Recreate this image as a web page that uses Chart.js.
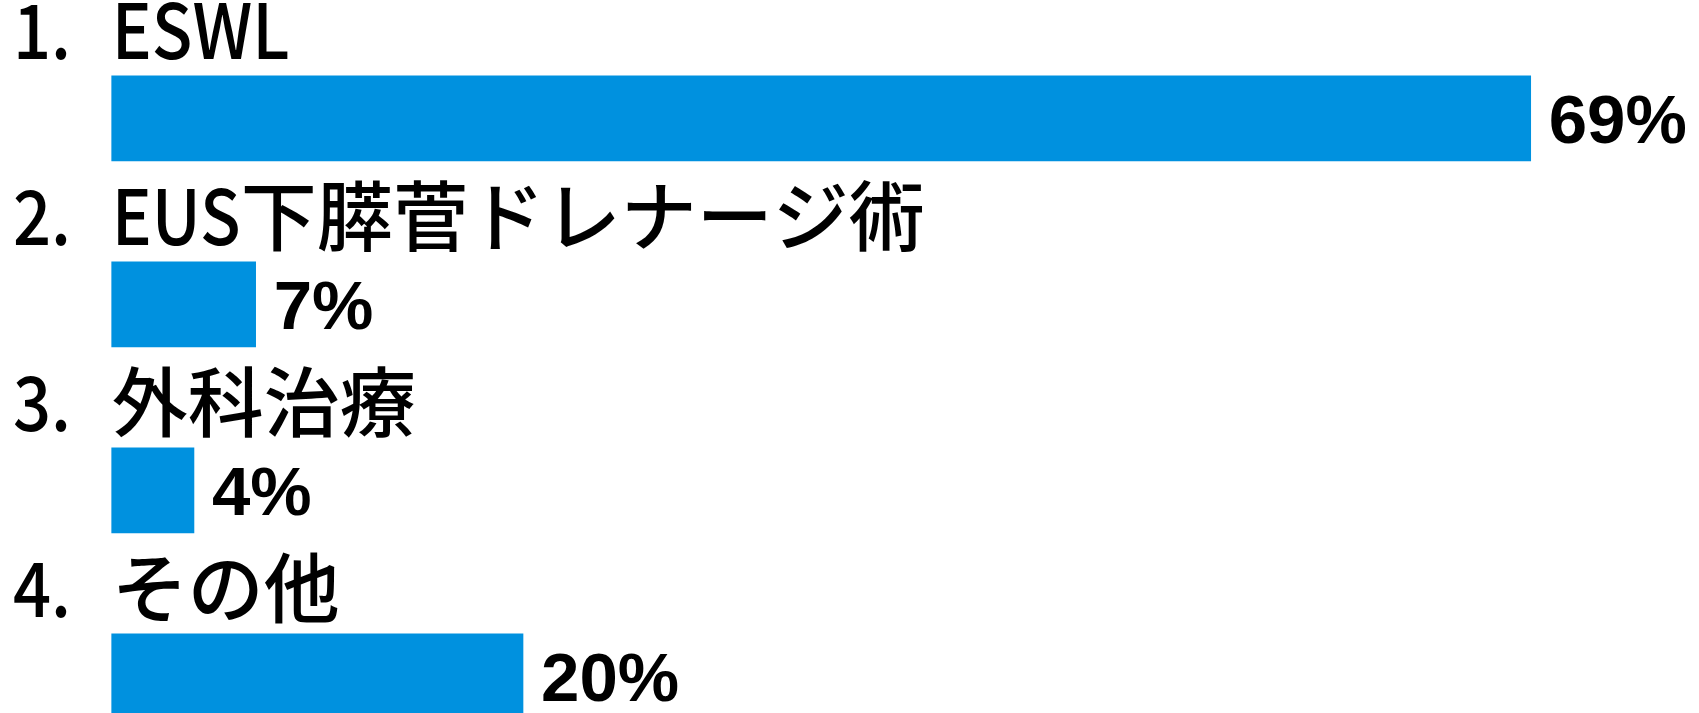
<!DOCTYPE html>
<html>
<head>
<meta charset="utf-8">
<script src="https://cdn.jsdelivr.net/npm/chart.js@4/dist/chart.umd.min.js"></script>
<style>
html,body{margin:0;padding:0;background:#fff;overflow:hidden;}
canvas{display:block;}
</style>
</head>
<body>
<canvas id="c" width="1699" height="713" style="width:1699px;height:713px"></canvas>
<script>
const itemNumbers = ['1.', '2.', '3.', '4.'];
const categories = ['ESWL', 'EUS下膵菅ドレナージ術', '外科治療', 'その他'];
const percentValues = [69, 7, 4, 20];
const valueLabels = ['69%', '7%', '4%', '20%'];

const LATIN_SCALE = 0.88;

function drawMixed(ctx, text, x, y) {
  const parts = text.match(/[\x00-\x7F]+|[^\x00-\x7F]+/g) || [];
  let cx = x;
  parts.forEach(p => {
    const isLatin = /^[\x00-\x7F]+$/.test(p);
    const w = ctx.measureText(p).width;
    if (isLatin) {
      ctx.save();
      ctx.translate(cx, y);
      ctx.scale(LATIN_SCALE, 1);
      ctx.fillText(p, 0, 0);
      ctx.restore();
      cx += w * LATIN_SCALE;
    } else {
      ctx.fillText(p, cx, y);
      cx += w;
    }
  });
}

const labelPlugin = {
  id: 'labelPlugin',
  afterDatasetsDraw(chart) {
    const ctx = chart.ctx;
    const meta = chart.getDatasetMeta(0);
    ctx.save();
    ctx.fillStyle = '#000';
    ctx.textBaseline = 'alphabetic';
    ctx.textAlign = 'left';
    meta.data.forEach((bar, i) => {
      const yBase = bar.y - 59;
      ctx.font = '500 76px "Noto Sans CJK JP", "Noto Sans", sans-serif';
      drawMixed(ctx, itemNumbers[i], 13, yBase);
      drawMixed(ctx, categories[i], chart.chartArea.left, yBase);
      ctx.font = 'bold 69px "Liberation Sans", Arial, sans-serif';
      ctx.fillText(valueLabels[i], bar.x + 18, bar.y + 24.5);
    });
    ctx.restore();
  }
};

new Chart(document.getElementById('c'), {
  type: 'bar',
  data: {
    labels: categories,
    datasets: [{
      data: percentValues,
      backgroundColor: '#0091df',
      borderWidth: 0,
      barThickness: 85,
      clip: false
    }]
  },
  options: {
    indexAxis: 'y',
    responsive: false,
    animation: false,
    layout: { padding: { top: 118.3, bottom: 36.7, left: 111.7, right: 44.9 } },
    plugins: { legend: { display: false }, tooltip: { enabled: false } },
    scales: {
      x: { type: 'linear', min: 0, max: 75, display: false },
      y: { type: 'category', offset: false, display: false }
    }
  },
  plugins: [labelPlugin]
});
</script>
</body>
</html>
